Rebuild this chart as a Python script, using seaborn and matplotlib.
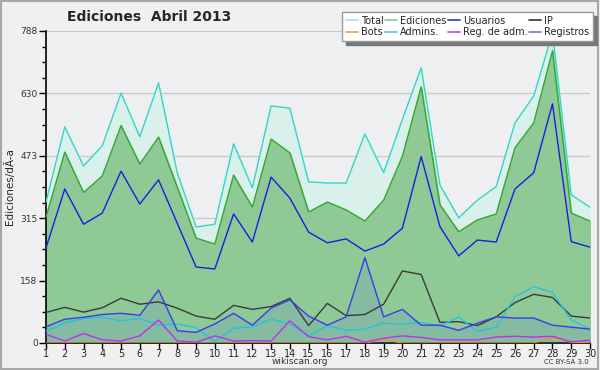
#!/usr/bin/env python3
"""Daily edits chart, April 2013 (wikiscan style)."""
import matplotlib
matplotlib.use("Agg")
import matplotlib.pyplot as plt
import seaborn as sns
from matplotlib.lines import Line2D
from matplotlib.patches import Rectangle

days = list(range(1, 31))

total = [356, 546, 447, 498, 631, 521, 657, 429, 293, 300,
         503, 392, 599, 593, 407, 404, 404, 528, 430, 565,
         695, 399, 316, 361, 395, 556, 624, 783, 374, 343]
ediciones = [318, 482, 380, 422, 549, 452, 520, 393, 265, 250,
             424, 343, 515, 480, 331, 356, 336, 308, 361, 472,
             647, 349, 281, 311, 326, 493, 556, 738, 328, 308]
usuarios = [240, 389, 300, 328, 434, 351, 412, 302, 192, 187,
            326, 255, 419, 366, 280, 253, 263, 232, 250, 290,
            471, 294, 220, 260, 255, 389, 430, 604, 256, 242]
ip = [77, 90, 78, 89, 113, 98, 104, 88, 68, 60,
      95, 85, 92, 113, 44, 100, 69, 72, 98, 182,
      173, 52, 54, 44, 66, 102, 123, 115, 68, 63]
registros = [41, 60, 65, 72, 75, 70, 134, 31, 27, 48,
             75, 45, 88, 109, 68, 45, 66, 216, 66, 85,
             45, 45, 32, 50, 66, 63, 63, 45, 40, 35]
admins = [30, 50, 62, 65, 56, 62, 45, 48, 39, 3,
          37, 41, 60, 48, 18, 44, 32, 35, 50, 48,
          52, 43, 66, 29, 40, 117, 142, 128, 58, 35]
reg_adm = [22, 5, 24, 8, 5, 18, 58, 5, 2, 18,
           5, 6, 5, 56, 16, 8, 17, 2, 12, 18,
           14, 8, 8, 8, 15, 17, 15, 17, 3, 7]
bots = [0, 0, 0, 0, 0, 0, 0, 0, 0, 0,
        0, 0, 0, 0, 0, 0, 0, 0, 9, 0,
        0, 0, 0, 0, 0, 0, 0, 14, 2, 0]

y_ticks = [0, 157.6, 315.2, 472.8, 630.4, 788]
y_tick_labels = ["0", "158", "315", "473", "630", "788"]

sns.set_theme(style="white")
plt.rcParams["font.family"] = ["DejaVu Sans"]

fig = plt.figure(figsize=(6, 3.7), dpi=100, facecolor="#f0f0f0")
fig.patches.append(Rectangle((0.002, 0.003), 0.995, 0.993, transform=fig.transFigure,
                             fill=False, edgecolor="#a8a8a8", linewidth=1.5))
ax = fig.add_axes([46 / 600, 1 - 343 / 370, 544 / 600, 312 / 370])
ax.set_facecolor("#eeeff1")

# filled areas
ax.fill_between(days, total, color="#d9f1ea", zorder=1)
ax.fill_between(days, ediciones, color="#8fca96", zorder=2)
ax.fill_between(days, registros, color="#6a8fc0", alpha=0.25, zorder=3, linewidth=0)

series = [
    ("Total", total, "#33d6c8", "#a8e6df"),
    ("Ediciones", ediciones, "#33a833", "#7fd07f"),
    ("Usuarios", usuarios, "#1c1ce0", "#3333dd"),
    ("IP", ip, "#3a3a3a", "#333333"),
    ("Bots", bots, "#f0902c", "#f0a040"),
    ("Admins.", admins, "#22c4e0", "#44ccdd"),
    ("Reg. de adm.", reg_adm, "#c030e8", "#cc44ee"),
    ("Registros", registros, "#3a3af0", "#7777ee"),
]
for name, vals, col, _ in series:
    sns.lineplot(x=days, y=vals, color=col, linewidth=1.0, ax=ax, zorder=4)

ax.set_xlim(1, 30)
ax.set_ylim(0, 788)
ax.set_xticks(days)
ax.set_xticklabels([str(d) for d in days], fontsize=7)
ax.set_yticks(y_ticks)
ax.set_yticklabels(y_tick_labels, fontsize=6.5, color="#333333")
ax.set_yticks([i * 39.4 for i in range(21)], minor=True)
ax.grid(axis="y", color="#c8c8c8", linewidth=0.9, zorder=0)
ax.set_axisbelow(True)
ax.tick_params(axis="x", which="major", length=4, width=1, color="black",
               direction="out", pad=0, bottom=True)
ax.tick_params(axis="y", which="major", length=5, width=1, color="black",
               direction="out", pad=1, left=True)
ax.tick_params(axis="y", which="minor", length=3, width=1, color="black",
               direction="out", left=True)
for side in ["top", "right"]:
    ax.spines[side].set_visible(False)
for side in ["left", "bottom"]:
    ax.spines[side].set_color("black")
    ax.spines[side].set_linewidth(1.2)
ax.set_xlabel("")
ax.set_ylabel("")
fig.text(10 / 600, 1 - 187 / 370, "Ediciones/dÃ-a", rotation=90, ha="center",
         va="center", fontsize=7.5)

fig.text(149 / 600, 1 - 17 / 370, "Ediciones  Abril 2013", ha="center", va="center",
         fontsize=10, fontweight="bold")
fig.text(300 / 600, 1 - 362 / 370, "wikiscan.org", ha="center", va="center",
         fontsize=6.5, color="#333333")
fig.text(589 / 600, 1 - 362 / 370, "CC BY-SA 3.0", ha="right", va="center",
         fontsize=5, color="#333333")

# legend, column-wise fill so rows read Total/Ediciones/Usuarios/IP
order = [0, 4, 1, 5, 2, 6, 3, 7]
handles = [Line2D([], [], color=series[i][3], linewidth=1.2) for i in order]
labels = [series[i][0] for i in order]
leg = fig.legend(handles, labels, loc="upper right", bbox_to_anchor=(593 / 600, 1 - 12 / 370),
                 ncol=4, fontsize=7, frameon=True, fancybox=False,
                 shadow={"ox": 3, "oy": -3, "color": "#777777", "alpha": 1},
                 handlelength=1.2, handletextpad=0.3, columnspacing=0.2,
                 labelspacing=0.15, borderpad=0.4, borderaxespad=0)
leg.get_frame().set_edgecolor("#999999")
leg.get_frame().set_facecolor("white")
leg.get_frame().set_alpha(1)

fig.savefig("out.png", dpi=100, facecolor=fig.get_facecolor())
